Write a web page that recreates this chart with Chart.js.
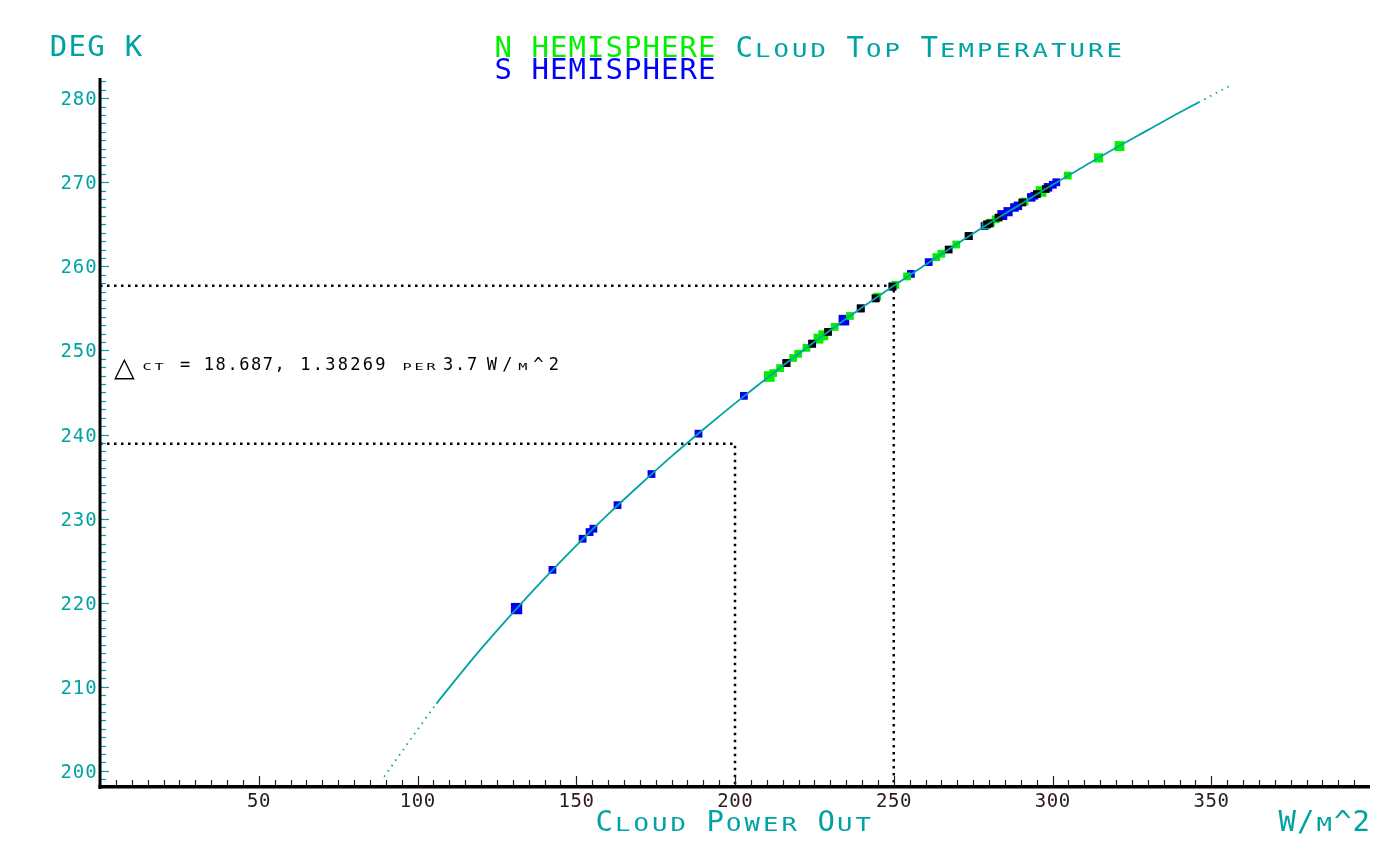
<!DOCTYPE html>
<html>
<head>
<meta charset="utf-8">
<title>Cloud Top Temperature</title>
<script src="https://cdn.jsdelivr.net/npm/chart.js@4.4.1/dist/chart.umd.min.js"></script>
<style>
  html, body { margin: 0; padding: 0; background: #fff; }
</style>
</head>
<body>
<canvas id="chart" width="1400" height="863"></canvas>
<script>
// curve: cloud power out (W/m^2) -> cloud top temp (deg K)
const curveX = [89.5, 100, 106, 110, 120, 130, 140, 150, 160, 170, 180, 190, 200, 210, 220,
                230, 240, 250, 260, 270, 280, 290, 300, 310, 320, 330, 340, 346, 356];
const curveY = [199.3, 204.9, 208.0, 209.9, 214.5, 218.8, 222.9, 226.8, 230.5, 234.0, 237.4, 240.6, 243.7, 246.7, 249.6,
                252.4, 255.1, 257.7, 260.2, 262.7, 265.1, 267.4, 269.7, 271.9, 274.1, 276.2, 278.3, 279.5, 281.5];

// N hemisphere samples (green)
const northX = [210.8, 212.0, 214.2, 218.3, 219.9, 222.5, 226.3, 227.8, 231.4, 236.2, 244.8, 250.5, 254.2,
                263.4, 265.0, 269.7, 279.1, 280.6, 282.1, 291.2, 296.4, 304.8, 314.5, 321.1];
const northY = [246.9, 247.3, 247.9, 249.1, 249.6, 250.3, 251.4, 251.8, 252.8, 254.1, 256.4, 257.8, 258.8,
                261.1, 261.5, 262.6, 264.9, 265.2, 265.6, 267.7, 268.9, 270.8, 272.9, 274.3];

// S hemisphere samples (blue)
const southX = [131.2, 142.5, 152.0, 154.2, 155.4, 163.0, 173.7, 188.5, 202.8, 216.2, 224.3, 234.3, 239.6, 244.3,
                249.6, 255.4, 261.0, 273.6, 278.6, 284.2, 286.0, 288.0, 289.1, 293.3, 294.3, 298.6, 300.1, 301.2];
const southY = [219.3, 223.9, 227.6, 228.4, 228.8, 231.6, 235.3, 240.1, 244.6, 248.5, 250.8, 253.6, 255.0, 256.2,
                257.6, 259.1, 260.5, 263.6, 264.8, 266.1, 266.5, 267.0, 267.2, 268.2, 268.4, 269.4, 269.7, 270.0];

// samples drawn in black
const blackX = [216.2, 224.3, 229.3, 239.6, 244.3, 249.6, 267.3, 273.6, 279.4, 280.2, 283.0, 290.5, 295.1, 297.9];
const blackY = [248.5, 250.8, 252.2, 255.0, 256.2, 257.6, 262.0, 263.6, 265.0, 265.1, 265.8, 267.6, 268.6, 269.2];

// marker radii (bigger squares in the picture)
const northSize = [7.5, 5.5, 5.5, 5.5, 5.5, 5.5, 7, 7, 5.5, 5.5, 5.5, 5.5, 5.5, 5.5, 5.5, 5.5, 5.5, 5.5, 5.5, 5.5, 7.5, 5.5, 6.5, 7];
const southSize = [8, 5.5, 5.5, 5.5, 5.5, 5.5, 5.5, 5.5, 5.5, 5.5, 5.5, 7.5, 5.5, 5.5, 5.5, 5.5, 5.5, 5.5, 5.5, 7, 6.5, 6, 6, 6, 5.5, 6, 5.5, 5.5];

// dotted guide lines
const guideX = [250, 200];
const guideY = [257.7, 238.9];
const deltaText = ['18.687,', '1.38269', '3.7'];

const xTicks = [50, 100, 150, 200, 250, 300, 350];
const yTicks = [200, 210, 220, 230, 240, 250, 260, 270, 280];

const X_MIN = 0, X_MAX = 400, Y_MIN = 198.2, Y_MAX = 282.4;
const CYAN = '#00a3a3';
const MONO = '"DejaVu Sans Mono", monospace';

const pts = (xs, ys) => xs.map((x, i) => ({ x: x, y: ys[i] }));

// fixed pitch text, lowercase letters drawn as wide small capitals
function spaced(ctx, text, x, y, pitch, big, small, color, k) {
  ctx.fillStyle = color;
  ctx.textAlign = 'left';
  ctx.textBaseline = 'alphabetic';
  for (let i = 0; i < text.length; i++) {
    const ch = text[i];
    const low = ch !== ch.toUpperCase();
    const g = low ? ch.toUpperCase() : ch;
    ctx.font = (low ? small : big) + 'px ' + MONO;
    const w = ctx.measureText(g).width;
    const cx = x + i * pitch + pitch / 2;
    if (low) {
      ctx.save();
      ctx.translate(cx, y);
      ctx.scale(k || 1, 1);
      ctx.fillText(g, -w / 2, 0);
      ctx.restore();
    } else {
      ctx.fillText(g, cx - w / 2, y);
    }
  }
}

const axesPlugin = {
  id: 'oldAxes',
  afterDraw(chart) {
    const ctx = chart.ctx;
    const xs = chart.scales.x, ys = chart.scales.y;
    const left = xs.getPixelForValue(X_MIN);
    const bottom = ys.getPixelForValue(Y_MIN);
    const top = ys.getPixelForValue(Y_MAX);
    const right = xs.getPixelForValue(X_MAX);
    ctx.save();

    // y ticks (inside, cyan)
    ctx.strokeStyle = CYAN;
    ctx.lineWidth = 1.2;
    for (let v = 199; v <= 282; v++) {
      const py = Math.round(ys.getPixelForValue(v)) + 0.5;
      ctx.beginPath();
      ctx.moveTo(left, py);
      ctx.lineTo(left + (v % 10 === 0 ? 9 : 6), py);
      ctx.stroke();
    }
    // x ticks (inside, dark)
    ctx.strokeStyle = '#2a1c1c';
    for (let v = 5; v < 400; v += 5) {
      const px = Math.round(xs.getPixelForValue(v)) + 0.5;
      ctx.beginPath();
      ctx.moveTo(px, bottom);
      ctx.lineTo(px, bottom - (v % 50 === 0 ? 10 : 6));
      ctx.stroke();
    }

    // axis lines
    ctx.fillStyle = '#000';
    ctx.fillRect(left - 1.5, top, 3, bottom - top + 3);
    ctx.fillRect(left - 1.5, bottom - 1, right - left + 1.5, 3.5);

    // tick labels
    yTicks.forEach(v => {
      const s = String(v);
      spaced(ctx, s, 97 - s.length * 12.3, ys.getPixelForValue(v) + 7, 12.3, 19, 19, CYAN);
    });
    xTicks.forEach(v => {
      const s = String(v);
      spaced(ctx, s, xs.getPixelForValue(v) - s.length * 6, bottom + 21, 12, 19, 19, '#2a1c1c');
    });

    // titles
    spaced(ctx, 'DEG K', 49, 56, 18.8, 29, 19, CYAN);
    spaced(ctx, 'N HEMISPHERE', 494, 57, 18.5, 29, 19, '#00f000');
    spaced(ctx, 'S HEMISPHERE', 494, 79, 18.5, 29, 19, '#0000ff');
    spaced(ctx, 'Cloud Top Temperature', 735, 57, 18.5, 29, 19, CYAN, 1.35);
    spaced(ctx, 'Cloud Power Out', 595, 831, 18.5, 29, 19, CYAN, 1.35);
    spaced(ctx, 'W/m^2', 1278, 831, 18.5, 29, 19, CYAN, 1.35);

    // delta annotation
    ctx.fillStyle = '#000';
    ctx.font = '27px "DejaVu Sans"';
    ctx.textAlign = 'left';
    ctx.fillText('\u25B3', 114, 376);
    spaced(ctx, 'ct', 141, 370, 12, 17, 9.5, '#000', 1.6);
    spaced(ctx, '=', 179, 370, 12, 17, 9.5, '#000');
    spaced(ctx, deltaText[0], 203, 370, 11.8, 17, 9.5, '#000');
    spaced(ctx, deltaText[1], 299, 370, 12.5, 17, 9.5, '#000');
    spaced(ctx, 'per', 401, 370, 12, 17, 9.5, '#000', 1.6);
    spaced(ctx, deltaText[2], 442, 370, 12, 17, 9.5, '#000');
    spaced(ctx, 'W/m^2', 484, 370, 15.5, 17, 9.5, '#000', 1.6);
    ctx.restore();
  }
};

const guideData = i => [
  { x: X_MIN, y: guideY[i] },
  { x: guideX[i], y: guideY[i] },
  { x: guideX[i], y: Y_MIN }
];

const ctx = document.getElementById('chart').getContext('2d');
new Chart(ctx, {
  type: 'scatter',
  data: {
    datasets: [
      {
        label: 'curve',
        data: pts(curveX, curveY),
        showLine: true,
        borderColor: CYAN,
        borderWidth: 1.8,
        pointRadius: 0,
        cubicInterpolationMode: 'monotone',
        segment: {
          borderDash: c => (c.p0.parsed.x < 106 || c.p1.parsed.x > 346) ? [1.5, 5] : undefined
        }
      },
      {
        label: 'black',
        data: pts(blackX, blackY),
        pointStyle: 'rect',
        pointRadius: 5.5,
        pointBorderWidth: 0,
        backgroundColor: '#000',
        borderColor: '#000'
      },
      {
        label: 'N HEMISPHERE',
        data: pts(northX, northY),
        pointStyle: 'rect',
        pointRadius: northSize,
        pointBorderWidth: 0,
        backgroundColor: '#00f000',
        borderColor: '#00f000'
      },
      {
        label: 'S HEMISPHERE',
        data: pts(southX, southY),
        pointStyle: 'rect',
        pointRadius: southSize,
        pointBorderWidth: 0,
        backgroundColor: '#0000f0',
        borderColor: '#0000f0'
      },
      {
        label: 'guide 250',
        data: guideData(0),
        showLine: true,
        borderColor: '#000',
        borderWidth: 2.5,
        borderDash: [2.5, 4.5],
        pointRadius: 0
      },
      {
        label: 'guide 200',
        data: guideData(1),
        showLine: true,
        borderColor: '#000',
        borderWidth: 2.5,
        borderDash: [2.5, 4.5],
        pointRadius: 0
      }
    ]
  },
  options: {
    responsive: false,
    animation: false,
    layout: { padding: { left: 100, right: 30, top: 78, bottom: 77 } },
    scales: {
      x: { type: 'linear', min: X_MIN, max: X_MAX, display: false },
      y: { type: 'linear', min: Y_MIN, max: Y_MAX, display: false }
    },
    plugins: {
      legend: { display: false },
      tooltip: { enabled: false }
    }
  },
  plugins: [axesPlugin]
});
</script>
</body>
</html>
